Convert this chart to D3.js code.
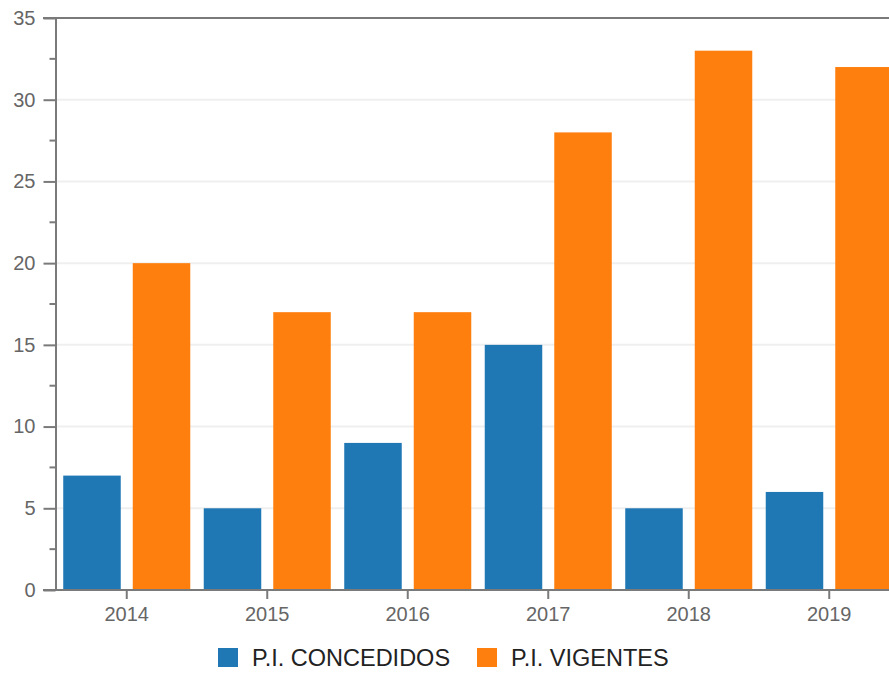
<!DOCTYPE html>
<html>
<head>
<meta charset="utf-8">
<script src="https://cdn.jsdelivr.net/npm/d3@7"></script>
<style>
  body { margin: 0; background: #fff; overflow: hidden; }
  svg { display: block; font-family: "Liberation Sans", Arial, sans-serif; }
</style>
</head>
<body>
<svg width="889" height="674"></svg>
<script>
const years = ["2014", "2015", "2016", "2017", "2018", "2019"];
const concedidos = [7, 5, 9, 15, 5, 6];
const vigentes = [20, 17, 17, 28, 33, 32];
const seriesNames = ["P.I. CONCEDIDOS", "P.I. VIGENTES"];
const seriesColors = ["#1f77b4", "#ff7f0e"];
const yTicks = [0, 5, 10, 15, 20, 25, 30, 35];

const svg = d3.select("svg");

// plot area (right side is cut off like the original)
const plotLeft = 55.5, plotTop = 18, plotBottom = 590, plotRight = 899.5;

const x = d3.scaleBand()
  .domain(years)
  .range([plotLeft + 1, plotRight]);

const x1 = d3.scaleBand()
  .domain(seriesNames)
  .range([0, x.bandwidth()])
  .paddingInner(0.1727)
  .paddingOuter(0.097);

const y = d3.scaleLinear()
  .domain([0, 35])
  .range([plotBottom, plotTop]);

const rows = years.map((yr, i) => ({
  year: yr,
  vals: [concedidos[i], vigentes[i]]
}));

// grid lines
svg.append("g")
  .selectAll("line")
  .data(yTicks.filter(d => d > 0 && d < 35))
  .enter().append("line")
  .attr("x1", plotLeft).attr("x2", 889)
  .attr("y1", d => y(d)).attr("y2", d => y(d))
  .attr("stroke", "#efefef")
  .attr("stroke-width", 2);

// bars
svg.append("g")
  .selectAll("g")
  .data(rows)
  .enter().append("g")
  .attr("transform", d => `translate(${x(d.year)},0)`)
  .selectAll("rect")
  .data(d => d.vals.map((v, k) => ({ key: seriesNames[k], v: v, k: k })))
  .enter().append("rect")
  .attr("x", d => x1(d.key))
  .attr("width", x1.bandwidth())
  .attr("y", d => y(d.v))
  .attr("height", d => y(0) - y(d.v))
  .attr("fill", d => seriesColors[d.k]);

// top border
svg.append("line")
  .attr("x1", 43).attr("x2", 889)
  .attr("y1", plotTop).attr("y2", plotTop)
  .attr("stroke", "#7a7a7a")
  .attr("stroke-width", 2);

// y axis
const yAxis = d3.axisLeft(y)
  .tickValues(yTicks)
  .tickSize(12)
  .tickPadding(8)
  .tickSizeOuter(0);

const gy = svg.append("g")
  .attr("transform", `translate(${plotLeft},0)`)
  .call(yAxis);

// minor ticks
gy.selectAll(".minor")
  .data(d3.range(2.5, 35, 5))
  .enter().append("line")
  .attr("class", "minor")
  .attr("x1", -6).attr("x2", 0)
  .attr("y1", d => y(d)).attr("y2", d => y(d))
  .attr("stroke", "#7a7a7a")
  .attr("stroke-width", 2);

// x axis
const xAxis = d3.axisBottom(x)
  .tickSize(9)
  .tickPadding(8)
  .tickSizeOuter(0);

const gx = svg.append("g")
  .attr("transform", `translate(0,${plotBottom})`)
  .call(xAxis);

gx.select(".domain").attr("d", `M43,0H889`);

svg.selectAll(".domain, .tick line")
  .attr("stroke", "#7a7a7a")
  .attr("stroke-width", 2);

svg.selectAll(".tick text")
  .attr("fill", "#666")
  .style("font-size", "20px");

// legend
const legend = svg.append("g")
  .attr("transform", "translate(218,648)");

const legendX = [0, 259];
const item = legend.selectAll("g")
  .data(seriesNames)
  .enter().append("g")
  .attr("transform", (d, i) => `translate(${legendX[i]},0)`);

item.append("rect")
  .attr("width", 20).attr("height", 19)
  .attr("fill", (d, i) => seriesColors[i]);

item.append("text")
  .attr("x", 34).attr("y", 18)
  .attr("fill", "#222")
  .style("font-size", "23.5px")
  .text(d => d);
</script>
</body>
</html>
